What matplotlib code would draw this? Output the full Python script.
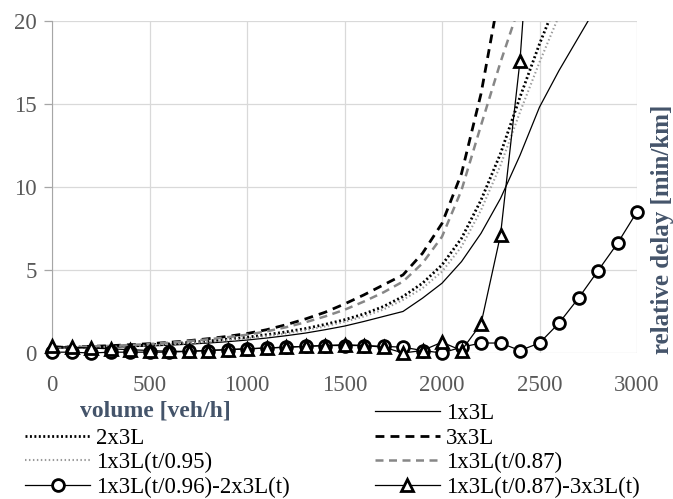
import matplotlib
matplotlib.use('Agg')
import matplotlib.pyplot as plt
from matplotlib.lines import Line2D
from matplotlib.patches import Rectangle

plt.rcParams['font.family'] = ['Liberation Serif', 'DejaVu Serif']

# curves (x every 100 veh/h)
vol_1x3L = [0, 100, 200, 300, 400, 500, 600, 700, 800, 900, 1000, 1100, 1200, 1300, 1400,
            1500, 1600, 1700, 1800, 1900, 2000, 2100, 2200, 2300, 2400, 2500, 2600, 2700, 2800]
delay_1x3L = [0.3, 0.3, 0.32, 0.35, 0.38, 0.42, 0.47, 0.53, 0.6, 0.68, 0.78, 0.9, 1.04, 1.2, 1.4,
              1.62, 1.9, 2.2, 2.5, 3.3, 4.2, 5.5, 7.2, 9.3, 11.9, 14.8, 17.0, 19.0, 21.0]

vol_2x3L = [0, 100, 200, 300, 400, 500, 600, 700, 800, 900, 1000, 1100, 1200, 1300, 1400,
            1500, 1600, 1700, 1800, 1900, 2000, 2100, 2200, 2300, 2400, 2500, 2600]
delay_2x3L = [0.35, 0.35, 0.37, 0.4, 0.44, 0.49, 0.55, 0.63, 0.72, 0.83, 0.95, 1.1, 1.27, 1.47, 1.72,
              2.0, 2.35, 2.8, 3.4, 4.2, 5.3, 6.9, 9.2, 12.0, 15.4, 18.6, 21.5]

vol_3x3L = [0, 100, 200, 300, 400, 500, 600, 700, 800, 900, 1000, 1100, 1200, 1300, 1400,
            1500, 1600, 1700, 1800, 1900, 2000, 2100, 2200, 2300]
delay_3x3L = [0.35, 0.37, 0.4, 0.44, 0.5, 0.56, 0.64, 0.74, 0.86, 1.0, 1.17, 1.4, 1.7, 2.05, 2.45,
              2.95, 3.5, 4.1, 4.7, 6.0, 7.8, 10.8, 15.6, 22.0]

vol_t095 = [0, 100, 200, 300, 400, 500, 600, 700, 800, 900, 1000, 1100, 1200, 1300, 1400,
            1500, 1600, 1700, 1800, 1900, 2000, 2100, 2200, 2300, 2400, 2500, 2600, 2700]
delay_t095 = [0.33, 0.33, 0.35, 0.38, 0.41, 0.46, 0.52, 0.59, 0.67, 0.77, 0.88, 1.02, 1.18, 1.37, 1.6,
              1.88, 2.2, 2.62, 3.2, 3.9, 4.9, 6.4, 8.6, 11.3, 14.5, 17.5, 20.3, 23.0]

vol_t087 = [0, 100, 200, 300, 400, 500, 600, 700, 800, 900, 1000, 1100, 1200, 1300, 1400,
            1500, 1600, 1700, 1800, 1900, 2000, 2100, 2200, 2300, 2400]
delay_t087 = [0.34, 0.36, 0.39, 0.43, 0.48, 0.54, 0.62, 0.71, 0.82, 0.95, 1.1, 1.3, 1.55, 1.85, 2.2,
              2.6, 3.1, 3.65, 4.3, 5.4, 7.0, 9.8, 13.7, 17.5, 21.0]

# differences (markers)
vol_diff = [0, 100, 200, 300, 400, 500, 600, 700, 800, 900, 1000, 1100, 1200, 1300, 1400, 1500,
            1600, 1700, 1800, 1900, 2000, 2100, 2200, 2300, 2400, 2500, 2600, 2700, 2800, 2900, 3000]
diff_096_2x3L = [0.05, 0.05, 0.0, 0.05, 0.05, 0.05, 0.05, 0.1, 0.15, 0.2, 0.25, 0.3, 0.35, 0.4, 0.45, 0.45,
                 0.45, 0.4, 0.35, 0.15, 0.0, 0.35, 0.6, 0.6, 0.15, 0.6, 1.8, 3.3, 4.95, 6.6, 8.5]
vol_diff2 = [0, 100, 200, 300, 400, 500, 600, 700, 800, 900, 1000, 1100, 1200, 1300, 1400, 1500,
             1600, 1700, 1800, 1900, 2000, 2100, 2200, 2300, 2400, 2500]
diff_087_3x3L = [0.4, 0.35, 0.3, 0.25, 0.2, 0.15, 0.1, 0.1, 0.15, 0.2, 0.25, 0.3, 0.35, 0.4, 0.45, 0.5,
                 0.45, 0.35, 0.0, 0.15, 0.65, 0.15, 1.75, 7.1, 17.6, 34.0]

xticks = [0, 500, 1000, 1500, 2000, 2500, 3000]
yticks = [0, 5, 10, 15, 20]

W, H = 673, 499
fig = plt.figure(figsize=(W / 100, H / 100), dpi=100)
ax = fig.add_axes([52 / W, 1 - 353 / H, (637 - 52) / W, (353 - 20.7) / H])

tick_col = '#595959'
title_col = '#44546a'

l1, = ax.plot(vol_1x3L, delay_1x3L, color='black', lw=0.9, label='1x3L')
l2, = ax.plot(vol_2x3L, delay_2x3L, color='black', lw=2.0, ls=(0, (0.7, 0.9)), label='2x3L')
l3, = ax.plot(vol_3x3L, delay_3x3L, color='black', lw=2.0, ls=(0, (3.2, 2.2)), label='3x3L')
l4, = ax.plot(vol_t095, delay_t095, color='#9a9a9a', lw=1.5, ls=(0, (0.7, 1.2)), label='1x3L(t/0.95)')
l5, = ax.plot(vol_t087, delay_t087, color='#878787', lw=1.8, ls=(0, (3.2, 2.2)), label='1x3L(t/0.87)')

# clip region a bit wider than the axes at bottom/sides so markers at 0 are whole
clip = Rectangle((-0.03, -0.06), 1.06, 1.06, transform=ax.transAxes, facecolor='none')
l6, = ax.plot(vol_diff, diff_096_2x3L, color='black', lw=0.9, marker='o', ms=8.5,
              mfc='white', mec='black', mew=2.0, label='1x3L(t/0.96)-2x3L(t)', zorder=5)
l7, = ax.plot(vol_diff2, diff_087_3x3L, color='black', lw=0.9, marker='^', ms=8.5,
              mfc='white', mec='black', mew=2.0, label='1x3L(t/0.87)-3x3L(t)', zorder=6)
l6.set_clip_path(clip)
l7.set_clip_path(clip)

ax.set_xlim(0, 3000)
ax.set_ylim(0, 20)
ax.set_xticks(xticks)
ax.set_yticks(yticks)
ax.grid(True, color='#d9d9d9', lw=0.9)
ax.set_axisbelow(True)
for s in ['top', 'right', 'bottom']:
    ax.spines[s].set_visible(False)
ax.spines['left'].set_color('#a6a6a6')
ax.tick_params(axis='x', length=0, pad=15.5, labelsize=16.5, colors=tick_col)
ax.tick_params(axis='y', length=6, width=0.9, color='#a6a6a6', pad=5, labelsize=16.5, labelcolor=tick_col)

fig.text(80 / W, 1 - 411 / H, 'volume [veh/h]', fontsize=17, fontweight='bold',
         color=title_col, va='center', ha='left')
fig.text(662 / W, 1 - 229 / H, 'relative delay [min/km]', fontsize=18, fontweight='bold',
         color=title_col, rotation=90, va='center', ha='center')

blank = Line2D([], [], linestyle='none')
handles = [blank, l2, l4, l6, l1, l3, l5, l7]
labels = [' ', '2x3L', '1x3L(t/0.95)', '1x3L(t/0.96)-2x3L(t)',
          '1x3L', '3x3L', '1x3L(t/0.87)', '1x3L(t/0.87)-3x3L(t)']
fig.legend(handles, labels, loc='upper left', bbox_to_anchor=(25 / W, 1 - 403 / H), ncol=2,
           frameon=False, fontsize=16.5, handlelength=2.85, handletextpad=0.25,
           columnspacing=3.7, labelspacing=0.15, borderpad=0, borderaxespad=0)

fig.savefig('out.png', dpi=100)
